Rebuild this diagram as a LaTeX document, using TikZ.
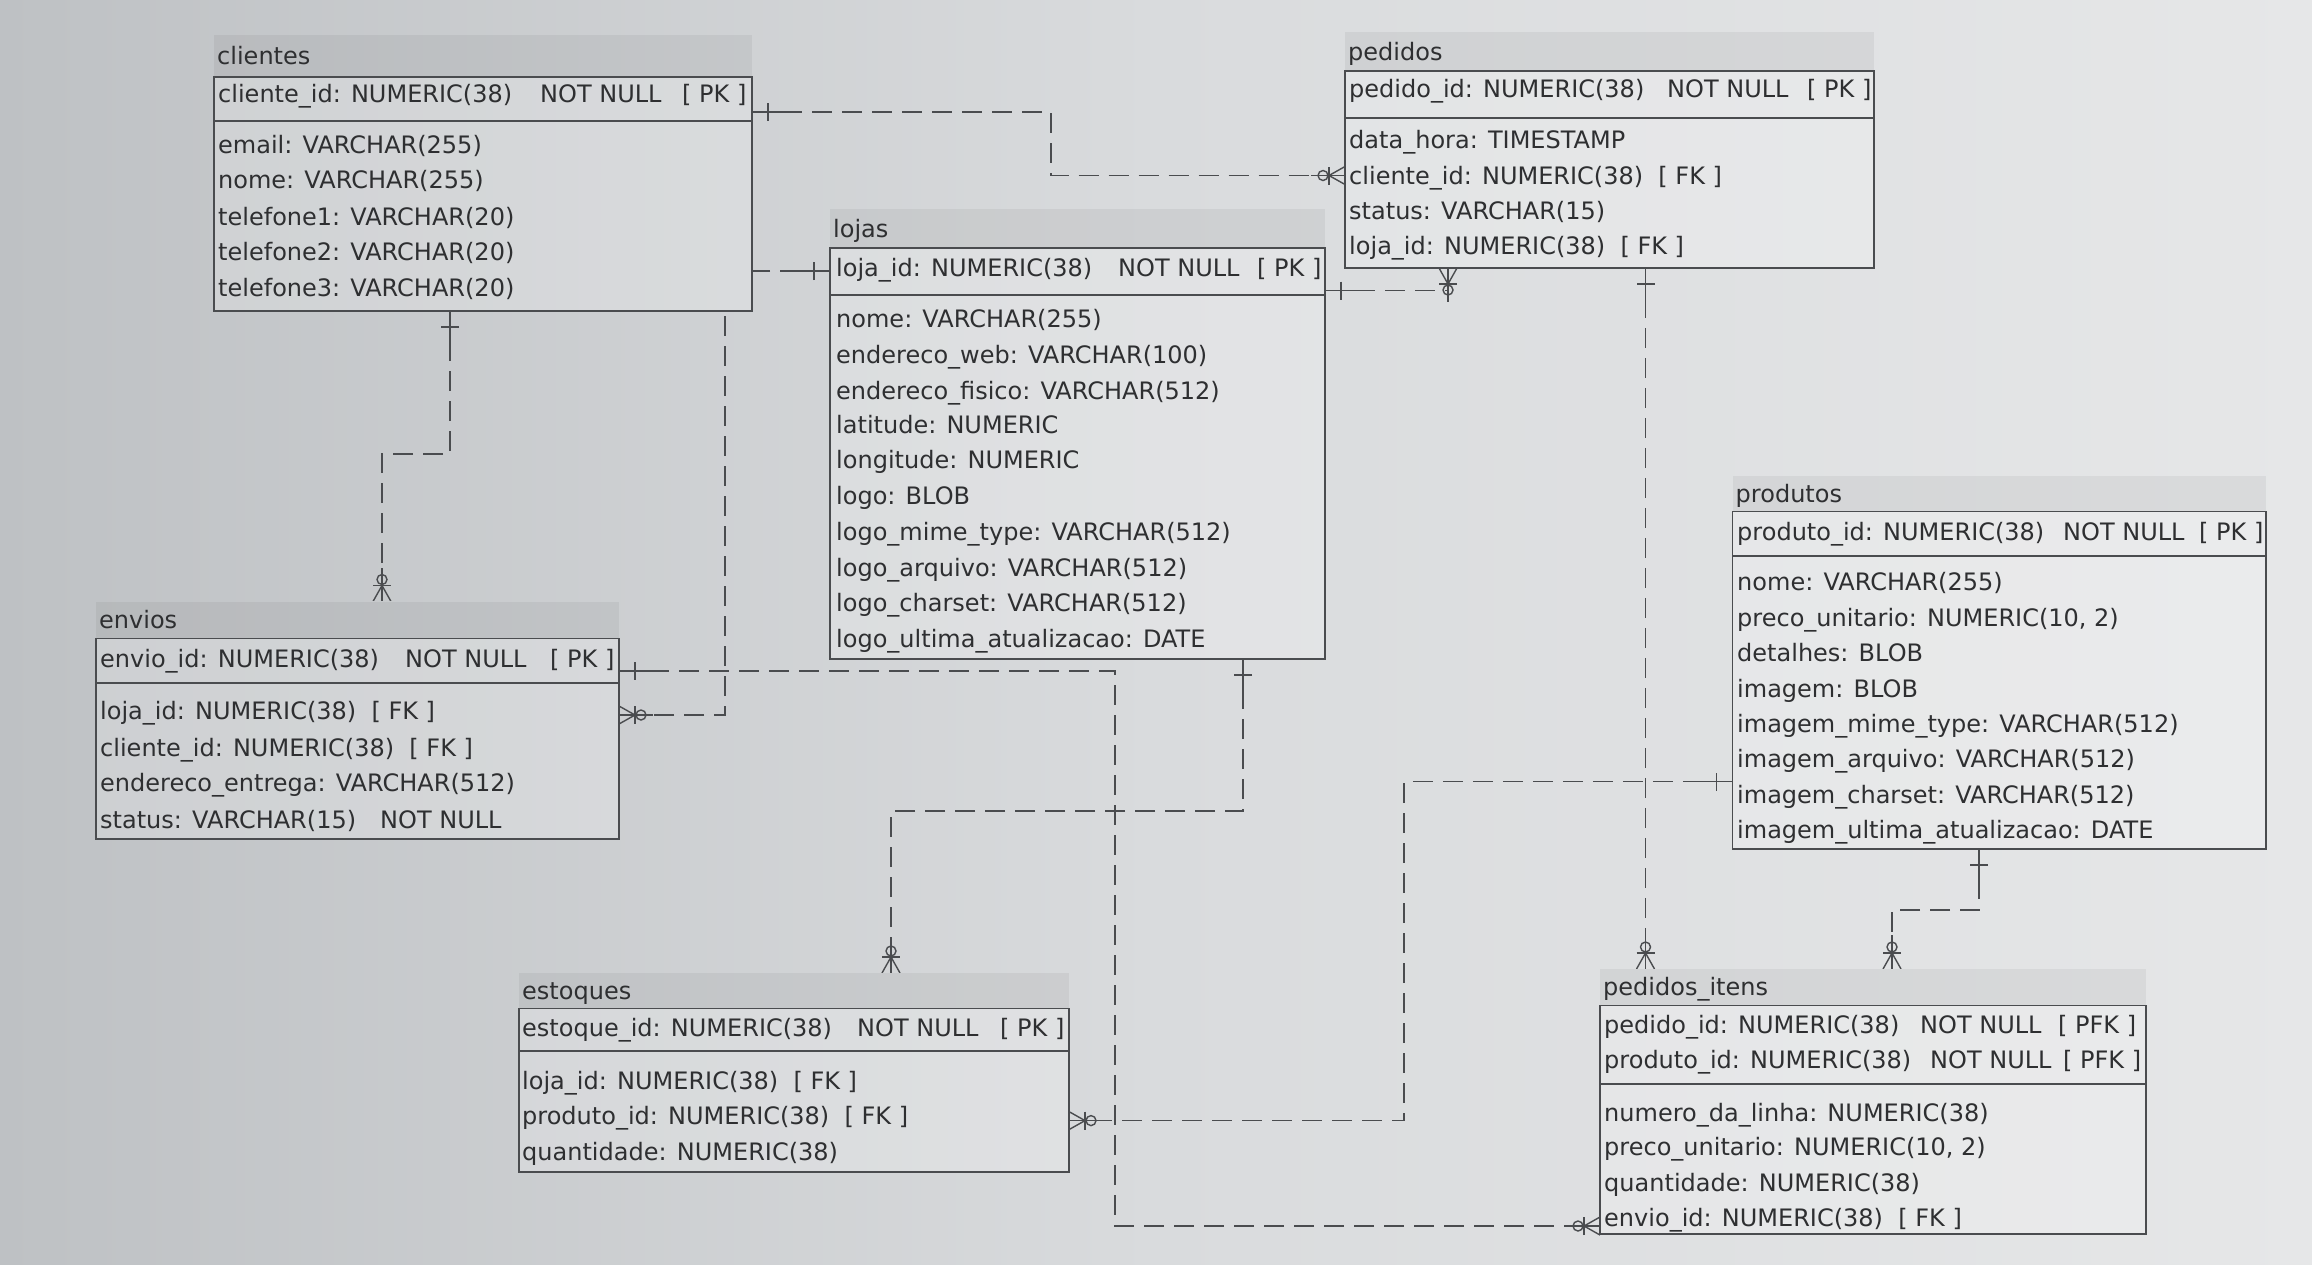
\documentclass[tikz,border=0pt]{standalone}
\usepackage{fontspec}
\setmainfont{DejaVu Sans}
\usetikzlibrary{calc}
\definecolor{bgleft}{HTML}{BEC1C4}
\definecolor{bgmid}{HTML}{D9DBDD}
\definecolor{bgright}{HTML}{E6E7E8}
\definecolor{ink}{HTML}{2E2F31}
\definecolor{lin}{HTML}{4A4C4F}
\pgfdeclarelayer{back}
\pgfdeclarelayer{conn}
\pgfsetlayers{back,conn,main}
\tikzset{
  bgshade/.style={left color=bgleft,right color=bgright,middle color=bgmid},
  txt/.style={font=\fontsize{24}{28}\selectfont, text=ink, inner sep=0pt, anchor=west, text height=17pt, text depth=0pt},
  boxline/.style={draw=lin, line width=1.6pt},
  rel/.style={draw=lin, line width=1.4pt, dash pattern=on 20pt off 10pt},
  sym/.style={draw=lin, line width=1.4pt},
  one/.pic={\draw[sym] (0,0)--(34,0); \draw[sym] (16,-9)--(16,9);},
  many/.pic={\draw[sym] (0,0)--(34,0); \draw[sym] (0,-9)--(16,0)--(0,9); \draw[sym] (16,-9)--(16,9); \draw[sym] (22,0) circle (5pt);},
}
% #1 id, #2 title, #3 x1, #4 x2, #5 yband, #6 ypktop, #7 ypkbot, #8 ybot
\newcommand\ertab[8]{%
  \begin{scope}
    \clip (#3,#5) rectangle (#4,#8);
    \shade[bgshade] (0,0) rectangle (2312,1264);
    \fill[white, opacity=0.22] (#3,#6) rectangle (#4,#8);
    \fill[black, opacity=0.05] (#3,#5) rectangle (#4,#6);
  \end{scope}
  \draw[boxline] (#3,#6) rectangle (#4,#8);
  \draw[draw=lin, line width=2.6pt] (#3,#7) -- (#4,#7);
  \node[txt] (#1-t) at (#3+3,{(#5+#6)/2}) {#2};
  \node[inner sep=0pt, outer sep=0pt, minimum width={#4-#3}, minimum height={#8-#5}, anchor=north west] (#1) at (#3,#5) {};
}
\newcommand\rw[4]{\node[txt] (#1) at (#2,#3) {#4};}
\begin{document}
\begin{tikzpicture}[x=1pt,y=-1pt]
\useasboundingbox (0,0) rectangle (2312,1264);
\begin{pgfonlayer}{back}
  \shade[bgshade] (0,0) rectangle (2312,1264);
\end{pgfonlayer}

% ---------- clientes
\ertab{clientes}{clientes}{214}{752}{35}{77}{121}{311}
\rw{cpk}{218}{94}{cliente\_id: NUMERIC(38)}
\rw{cpknn}{540}{94}{NOT NULL}
\rw{cpkk}{682}{94}{[ PK ]}
\rw{c1}{218}{144.5}{email: VARCHAR(255)}
\rw{c2}{218}{180}{nome: VARCHAR(255)}
\rw{c3}{218}{217}{telefone1: VARCHAR(20)}
\rw{c4}{218}{252}{telefone2: VARCHAR(20)}
\rw{c5}{218}{287.5}{telefone3: VARCHAR(20)}

% ---------- pedidos
\ertab{pedidos}{pedidos}{1345}{1874}{32}{71}{118}{268}
\rw{ppk}{1349}{88.5}{pedido\_id: NUMERIC(38)}
\rw{ppknn}{1667}{88.5}{NOT NULL}
\rw{ppkk}{1807}{88.5}{[ PK ]}
\rw{p1}{1349}{140}{data\_hora: TIMESTAMP}
\rw{p2}{1349}{175.5}{cliente\_id: NUMERIC(38)\ \ [ FK ]}
\rw{p3}{1349}{211}{status: VARCHAR(15)}
\rw{p4}{1349}{246}{loja\_id: NUMERIC(38)\ \ [ FK ]}

% ---------- lojas
\ertab{lojas}{lojas}{830}{1325}{209}{248}{295}{659}
\rw{lpk}{836}{268}{loja\_id: NUMERIC(38)}
\rw{lpknn}{1118}{268}{NOT NULL}
\rw{lpkk}{1257}{268}{[ PK ]}
\rw{l1}{836}{318.5}{nome: VARCHAR(255)}
\rw{l2}{836}{355}{endereco\_web: VARCHAR(100)}
\rw{l3}{836}{391}{endereco\_fisico: VARCHAR(512)}
\rw{l4}{836}{425}{latitude: NUMERIC}
\rw{l5}{836}{460}{longitude: NUMERIC}
\rw{l6}{836}{495.5}{logo: BLOB}
\rw{l7}{836}{532}{logo\_mime\_type: VARCHAR(512)}
\rw{l8}{836}{568}{logo\_arquivo: VARCHAR(512)}
\rw{l9}{836}{603}{logo\_charset: VARCHAR(512)}
\rw{l10}{836}{638.5}{logo\_ultima\_atualizacao: DATE}

% ---------- envios
\ertab{envios}{envios}{96}{619}{601.5}{638.5}{683}{839}
\rw{epk}{100}{659}{envio\_id: NUMERIC(38)}
\rw{epknn}{405}{659}{NOT NULL}
\rw{epkk}{550}{659}{[ PK ]}
\rw{e1}{100}{711}{loja\_id: NUMERIC(38)\ \ [ FK ]}
\rw{e2}{100}{747.5}{cliente\_id: NUMERIC(38)\ \ [ FK ]}
\rw{e3}{100}{783}{endereco\_entrega: VARCHAR(512)}
\rw{e4}{100}{820}{status: VARCHAR(15)}
\rw{e4nn}{380}{820}{NOT NULL}

% ---------- produtos
\ertab{produtos}{produtos}{1732.5}{2266}{476}{511.6}{556}{849}
\rw{prpk}{1737}{532}{produto\_id: NUMERIC(38)}
\rw{prpknn}{2063}{532}{NOT NULL}
\rw{prpkk}{2199}{532}{[ PK ]}
\rw{pr1}{1737}{582}{nome: VARCHAR(255)}
\rw{pr2}{1737}{618}{preco\_unitario: NUMERIC(10, 2)}
\rw{pr3}{1737}{653}{detalhes: BLOB}
\rw{pr4}{1737}{688.6}{imagem: BLOB}
\rw{pr5}{1737}{724}{imagem\_mime\_type: VARCHAR(512)}
\rw{pr6}{1737}{759}{imagem\_arquivo: VARCHAR(512)}
\rw{pr7}{1737}{795}{imagem\_charset: VARCHAR(512)}
\rw{pr8}{1737}{830}{imagem\_ultima\_atualizacao: DATE}

% ---------- estoques
\ertab{estoques}{estoques}{519}{1069}{973}{1008.6}{1051}{1172}
\rw{spk}{522}{1027.7}{estoque\_id: NUMERIC(38)}
\rw{spknn}{857}{1027.7}{NOT NULL}
\rw{spkk}{1000}{1027.7}{[ PK ]}
\rw{s1}{522}{1081}{loja\_id: NUMERIC(38)\ \ [ FK ]}
\rw{s2}{522}{1116}{produto\_id: NUMERIC(38)\ \ [ FK ]}
\rw{s3}{522}{1151.6}{quantidade: NUMERIC(38)}

% ---------- pedidos_itens
\ertab{pitens}{pedidos\_itens}{1600}{2146}{969}{1005.6}{1084}{1234}
\rw{ipk1}{1604}{1025}{pedido\_id: NUMERIC(38)}
\rw{ipk1nn}{1920}{1025}{NOT NULL}
\rw{ipk1k}{2058}{1025}{[ PFK ]}
\rw{ipk2}{1604}{1060}{produto\_id: NUMERIC(38)}
\rw{ipk2nn}{1930}{1060}{NOT NULL}
\rw{ipk2k}{2063}{1060}{[ PFK ]}
\rw{i1}{1604}{1113}{numero\_da\_linha: NUMERIC(38)}
\rw{i2}{1604}{1147}{preco\_unitario: NUMERIC(10, 2)}
\rw{i3}{1604}{1182.5}{quantidade: NUMERIC(38)}
\rw{i4}{1604}{1218}{envio\_id: NUMERIC(38)\ \ [ FK ]}

% ---------- relationship end points
\coordinate (r1s) at (clientes.east |- 0,112);
\coordinate (r1e) at (pedidos.west |- p2);
\coordinate (r2s) at (450,0 |- clientes.south);
\coordinate (r2e) at (382,0 |- envios.north);
\coordinate (r3s) at (lojas.west |- 0,271);
\coordinate (r3e) at (envios.east |- 0,715);
\coordinate (r4s) at (lojas.east |- 0,290.5);
\coordinate (r4e) at (1448,0 |- pedidos.south);
\coordinate (r5s) at (envios.east |- 0,671);
\coordinate (r5e) at (pitens.west |- 0,1226);
\coordinate (r6s) at (1243,0 |- lojas.south);
\coordinate (r6e) at (891,0 |- estoques.north);
\coordinate (r7s) at (produtos.west |- 0,781.5);
\coordinate (r7e) at (estoques.east |- 0,1120.6);
\coordinate (r8s) at (1645.5,0 |- pedidos.south);
\coordinate (r8e) at (1645.5,0 |- pitens.north);
\coordinate (r9s) at (1979,0 |- produtos.south);
\coordinate (r9e) at (1892,0 |- pitens.north);

\begin{pgfonlayer}{conn}
  \draw[rel] (r1s) -- ++(299,0) |- (r1e);
  \draw[rel] (r2s) -- ++(0,143) -| (r2e);
  \draw[rel] (r3s) -- ++(-105,0) |- (r3e);
  \draw[rel] (r4s) -| (r4e);
  \draw[rel] (r5s) -- ++(496,0) |- (r5e);
  \draw[rel] (r6s) -- ++(0,152) -| (r6e);
  \draw[rel] (r7s) -- ++(-328.5,0) |- (r7e);
  \draw[rel] (r8s) -- (r8e);
  \draw[rel] (r9s) -- ++(0,61) -| (r9e);

  \pic[rotate=0] at (r1s) {one};
  \pic[rotate=180] at (r1e) {many};
  \pic[rotate=-90] at (r2s) {one};
  \pic[rotate=90] at (r2e) {many};
  \pic[rotate=180] at (r3s) {one};
  \pic[rotate=0] at (r3e) {many};
  \pic[rotate=0] at (r4s) {one};
  \pic[rotate=-90] at (r4e) {many};
  \pic[rotate=0] at (r5s) {one};
  \pic[rotate=180] at (r5e) {many};
  \pic[rotate=-90] at (r6s) {one};
  \pic[rotate=90] at (r6e) {many};
  \pic[rotate=180] at (r7s) {one};
  \pic[rotate=0] at (r7e) {many};
  \pic[rotate=-90] at (r8s) {one};
  \pic[rotate=90] at (r8e) {many};
  \pic[rotate=-90] at (r9s) {one};
  \pic[rotate=90] at (r9e) {many};
\end{pgfonlayer}
\end{tikzpicture}
\end{document}
